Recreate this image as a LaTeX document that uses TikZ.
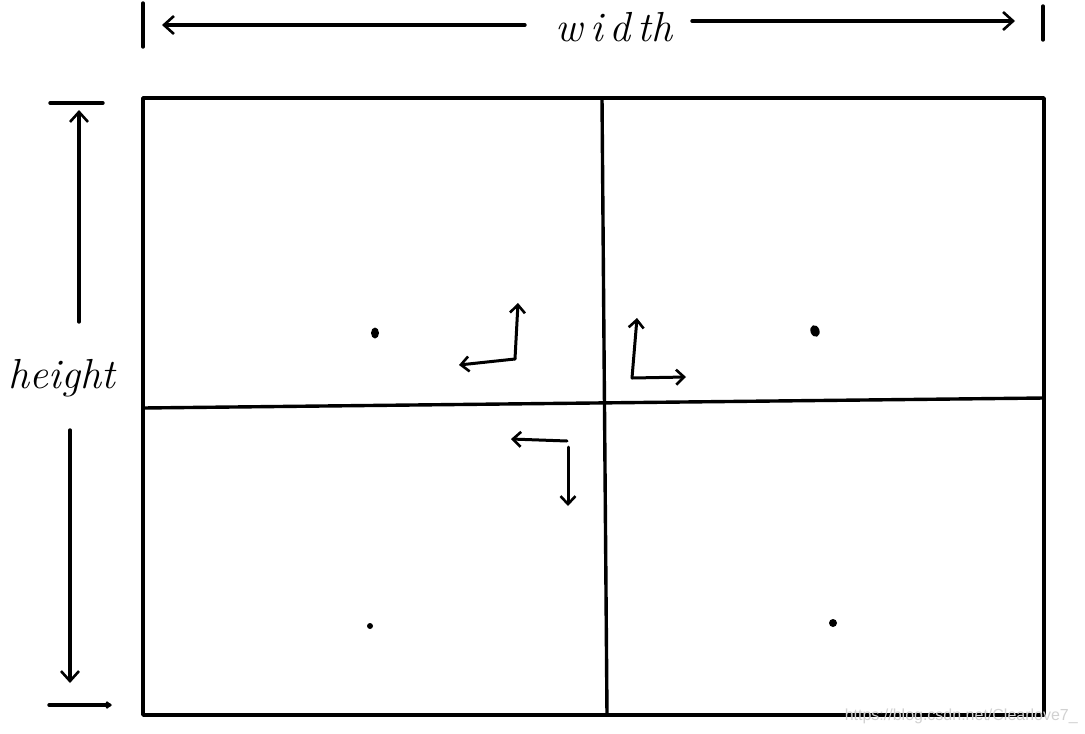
\documentclass[tikz,border=0pt]{standalone}
\usepackage{fontspec}
\usetikzlibrary{arrows.meta}
\newfontfamily\wmfont{Liberation Sans}
\tikzset{
  pen/.style={line width=3.4pt, line cap=round, line join=round},
  tip/.style={pen, -{Straight Barb[length=10pt,width=18pt,line width=2.6pt]}},
  smalltip/.style={pen, line width=3pt, -{Straight Barb[length=8pt,width=15pt,line width=2.6pt]}},
  dot/.style={ellipse, fill=black, inner sep=0pt, minimum width=8pt, minimum height=11pt},
  hand/.style={font=\fontsize{42}{42}\selectfont\itshape, inner sep=0pt}
}
\usetikzlibrary{shapes.geometric}
\begin{document}
\begin{tikzpicture}[x=1pt,y=-1pt]
\useasboundingbox (0,0) rectangle (1085,734);
% grid corners
\coordinate (tl) at (143,98);
\coordinate (tr) at (1044,98);
\coordinate (br) at (1044,715);
\coordinate (bl) at (143,715);
\coordinate (vt) at (602,98);
\coordinate (vb) at (607,715);
\coordinate (hl) at (143,408);
\coordinate (hr) at (1044,398);
\draw[pen] (tl) -- (tr) -- (br) -- (bl) -- cycle;
\draw[pen] (vt) -- (vb);
\draw[pen] (hl) -- (hr);
% width dimension
\coordinate (wl1) at (143,3);
\coordinate (wl2) at (143,47);
\coordinate (wr1) at (1043,6);
\coordinate (wr2) at (1043,40);
\draw[pen] (wl1) -- (wl2);
\draw[pen] (wr1) -- (wr2);
\node[hand] (w) at (614,27) {w\,i\,d\,th};
\coordinate (wa) at (162,25);
\coordinate (wb) at (1015,21);
\coordinate (wls) at (525,25);
\coordinate (wrs) at (692,21);
\draw[tip] (wls) -- (wa);
\draw[tip] (wrs) -- (wb);
% height dimension
\coordinate (ht1) at (50,103);
\coordinate (ht2) at (103,103);
\draw[pen] (ht1) -- (ht2);
\coordinate (hb1) at (49,705);
\coordinate (hb2) at (112,705);
\draw[pen,-{Straight Barb[length=4pt,width=6pt,line width=2pt]}] (hb1) -- (hb2);
\node[hand] (h) at (62,378) {height};
\coordinate (hu0) at (79,322);
\coordinate (hu) at (79,110);
\coordinate (hd0) at (70,430);
\coordinate (hd) at (70,683);
\draw[tip] (hu0) -- (hu);
\draw[tip] (hd0) -- (hd);
% dots
\node[dot] (d1) at (375,333) {};
\node[dot, rotate=20, minimum width=9pt, minimum height=12pt] (d2) at (815,331) {};
\node[dot, minimum width=6pt, minimum height=6pt] (d3) at (370,626) {};
\node[dot, minimum width=8pt, minimum height=8pt] (d4) at (833,623) {};
% small direction arrows
\coordinate (c1) at (515,359);
\coordinate (c1u) at (518,303);
\coordinate (c1l) at (459,365);
\draw[smalltip] (c1) -- (c1u);
\draw[smalltip] (c1) -- (c1l);
\coordinate (c2) at (632,378);
\coordinate (c2u) at (637,318);
\coordinate (c2r) at (686,377);
\draw[smalltip] (c2) -- (c2u);
\draw[smalltip] (c2) -- (c2r);
\coordinate (c3) at (567,441);
\coordinate (c3l) at (511,439);
\coordinate (c3s) at (568,447);
\coordinate (c3d) at (568,506);
\draw[smalltip] (c3) -- (c3l);
\draw[smalltip] (c3s) -- (c3d);
% watermark
\node[font=\wmfont\fontsize{16}{16}\selectfont, text=black!18, anchor=east, inner sep=0pt] (wm) at (1078,716) {https://blog.csdn.net/Clearlove7\_};
\end{tikzpicture}
\end{document}
